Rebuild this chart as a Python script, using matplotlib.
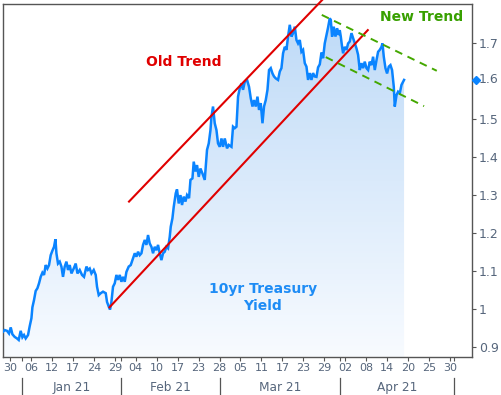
import numpy as np
import matplotlib.pyplot as plt
from matplotlib.colors import LinearSegmentedColormap
import matplotlib.transforms as mtransforms

# 10yr treasury yield, x = trading-session position (Dec 28 2020 = 0)
session = [0.0, 0.38, 0.83, 1.21, 1.54, 1.86, 2.30, 2.74, 3.07, 3.45, 3.78, 4.09, 4.41, 4.86,
           5.18, 5.51, 5.70, 6.01, 6.33, 6.66, 6.97, 7.29, 7.62, 7.93, 8.25, 8.58, 8.89, 9.21,
           9.54, 9.85, 10.12, 10.31, 10.61, 10.94, 11.27, 11.57, 11.90, 12.23, 12.53, 12.86,
           13.19, 13.63, 14.01, 14.34, 14.78, 15.22, 15.60, 16.07, 16.37, 16.70, 17.03, 17.47,
           17.85, 18.10, 18.43, 18.81, 19.25, 19.77, 20.02, 20.40, 20.60, 20.86, 21.17, 21.50,
           21.82, 22.13, 22.46, 22.78, 23.09, 23.42, 23.74, 24.18, 24.57, 24.89, 25.34, 25.66,
           25.97, 26.30, 26.62, 26.93, 27.26, 27.58, 27.89, 28.21, 28.54, 28.85, 29.17, 29.50,
           29.81, 30.13, 30.46, 30.77, 31.09, 31.42, 31.73, 32.05, 32.25, 32.57, 32.82, 33.21,
           33.45, 33.78, 34.11, 34.41, 34.74, 35.07, 35.37, 35.76, 36.03, 36.41, 36.66, 36.99,
           37.29, 37.62, 37.95, 38.33, 38.77, 38.96, 39.21, 39.54, 39.87, 40.06, 40.36, 40.69,
           41.02, 41.32, 41.65, 41.98, 42.28, 42.61, 43.05, 43.38, 43.90, 44.20, 44.53, 44.86,
           45.16, 45.49, 45.82, 46.12, 46.45, 46.89, 47.27, 47.60, 47.93, 48.23, 48.56, 48.89,
           49.19, 49.52, 49.85, 50.15, 50.48, 50.81, 51.11, 51.44, 51.77, 52.07, 52.40, 52.84,
           53.17, 53.49, 53.80, 54.13, 54.45, 54.76, 55.09, 55.41, 55.72, 56.05, 56.37, 56.68,
           57.01, 57.33, 57.64, 57.97, 58.29, 58.60, 58.93, 59.25, 59.56, 59.88, 60.21, 60.52,
           60.85, 61.17, 61.48, 61.80, 62.13, 62.44, 62.76, 62.96, 63.21, 63.53, 63.86, 64.17,
           64.50, 64.68, 64.88, 65.13, 65.32, 65.64, 65.97, 66.28, 66.60, 66.93, 67.24, 67.56,
           67.89, 68.20, 68.52, 68.85, 69.16, 69.48, 69.81, 70.12, 70.44, 70.77, 71.08, 71.40,
           71.73, 72.04, 72.36, 72.69, 72.88, 73.13, 73.45, 73.76, 74.09, 74.41, 74.72, 75.05,
           75.24, 75.57, 75.87, 76.20, 76.53, 76.83, 77.02]
yld = [0.939, 0.944, 0.942, 0.935, 0.951, 0.933, 0.926, 0.922, 0.918, 0.942, 0.925, 0.931, 0.922, 0.931,
       0.954, 0.975, 1.004, 1.023, 1.047, 1.054, 1.067, 1.084, 1.095, 1.089, 1.115, 1.106, 1.115, 1.141,
       1.153, 1.163, 1.183, 1.146, 1.119, 1.124, 1.111, 1.084, 1.111, 1.124, 1.102, 1.115,
       1.093, 1.106, 1.119, 1.093, 1.102, 1.089, 1.084, 1.111, 1.102, 1.106, 1.093, 1.102,
       1.089, 1.058, 1.036, 1.041, 1.045, 1.041, 1.018, 1.004, 0.998, 1.018, 1.058, 1.067,
       1.089, 1.076, 1.089, 1.071, 1.084, 1.071, 1.097, 1.111, 1.115, 1.128, 1.146, 1.137,
       1.150, 1.141, 1.146, 1.168, 1.181, 1.168, 1.194, 1.172, 1.163, 1.146, 1.163, 1.154,
       1.168, 1.146, 1.128, 1.146, 1.150, 1.163, 1.159, 1.189, 1.216, 1.238, 1.268, 1.304,
       1.314, 1.277, 1.299, 1.273, 1.295, 1.282, 1.299, 1.291, 1.339, 1.343, 1.387, 1.361,
       1.378, 1.347, 1.369, 1.356, 1.339, 1.374, 1.418, 1.435, 1.470, 1.505, 1.532, 1.488,
       1.470, 1.435, 1.426, 1.448, 1.426, 1.448, 1.422, 1.431, 1.426, 1.479, 1.475, 1.479,
       1.558, 1.580, 1.593, 1.576, 1.597, 1.602, 1.584, 1.554, 1.532, 1.549, 1.532, 1.558,
       1.523, 1.541, 1.488, 1.532, 1.549, 1.576, 1.628, 1.633, 1.619, 1.611, 1.606, 1.602,
       1.624, 1.633, 1.672, 1.689, 1.681, 1.716, 1.747, 1.716, 1.725, 1.742, 1.707, 1.698,
       1.707, 1.676, 1.681, 1.646, 1.637, 1.602, 1.620, 1.602, 1.620, 1.611, 1.610, 1.635,
       1.643, 1.674, 1.659, 1.698, 1.720, 1.740, 1.764, 1.760, 1.716, 1.742, 1.716, 1.738,
       1.720, 1.733, 1.716, 1.689, 1.672, 1.689, 1.681, 1.698, 1.703, 1.725, 1.712, 1.698,
       1.685, 1.668, 1.628, 1.646, 1.633, 1.650, 1.633, 1.628, 1.650, 1.641, 1.663, 1.628,
       1.654, 1.676, 1.681, 1.689, 1.698, 1.663, 1.633, 1.619, 1.637, 1.641, 1.628, 1.584,
       1.532, 1.562, 1.571, 1.567, 1.589, 1.597, 1.602]

# trend lines (start, end) in (session, yield)
old_upper_x = [24.24, 61.29]
old_upper_y = [1.282, 1.812]
old_lower_x = [20.50, 70.06]
old_lower_y = [1.004, 1.733]
new_upper_x = [61.23, 83.30]
new_upper_y = [1.773, 1.626]
new_lower_x = [62.00, 80.86]
new_lower_y = [1.662, 1.533]

day_labels = ["30", "06", "12", "17", "24", "29", "04", "10", "17", "23", "28",
              "05", "11", "17", "23", "29", "02", "08", "14", "20", "25", "30"]
month_labels = ["Jan 21", "Feb 21", "Mar 21", "Apr 21"]
month_bounds = [3.65, 22.76, 41.77, 64.80, 86.68]
y_ticks = [0.9, 1.0, 1.1, 1.2, 1.3, 1.4, 1.5, 1.7]

XMIN, XMAX = 0, 90
YMIN, YMAX = 0.874, 1.801

label_col = "#56667c"
spine_col = "#555555"
blue = "#0a84ff"

fig = plt.figure(figsize=(5.01, 3.95), dpi=100)
ax = fig.add_axes([0.0054, 0.0970, 0.9361, 0.8922])
ax.set_xlim(XMIN, XMAX)
ax.set_ylim(YMIN, YMAX)

# gradient fill under the line
poly = ax.fill_between(session, yld, YMIN, color="none", lw=0)
cmap = LinearSegmentedColormap.from_list("fillgrad", ["#f8fbff", "#bcd9f7"])
grad = np.linspace(0, 1, 256).reshape(-1, 1)
img = ax.imshow(grad, cmap=cmap, aspect="auto", origin="lower",
                extent=[XMIN, XMAX, YMIN, YMAX], zorder=1)
img.set_clip_path(poly.get_paths()[0], transform=ax.transData)

ax.plot(session, yld, color=blue, lw=1.8, zorder=3, solid_joinstyle="miter")

# trend lines
ax.plot(old_upper_x, old_upper_y, color="#e00000", lw=1.5, zorder=4, clip_on=False)
ax.plot(old_lower_x, old_lower_y, color="#e00000", lw=1.5, zorder=4)
ax.plot(new_upper_x, new_upper_y, color="#44a800", lw=1.4, ls=(0, (4, 3)), zorder=4)
ax.plot(new_lower_x, new_lower_y, color="#44a800", lw=1.4, ls=(0, (4, 3)), zorder=4)

ax.text(34.7, 1.648, "Old Trend", color="#e00000", fontsize=10, fontweight="bold",
        ha="center", va="center")
ax.text(80.3, 1.768, "New Trend", color="#38a000", fontsize=10, fontweight="bold",
        ha="center", va="center")
ax.text(49.9, 1.030, "10yr Treasury\nYield", color="#1e8cf5", fontsize=10,
        fontweight="bold", ha="center", va="center", linespacing=1.25)

# y axis on the right
ax.yaxis.tick_right()
ax.set_yticks(y_ticks)
ax.set_yticklabels([f"{v:g}" for v in y_ticks])
ax.tick_params(axis="y", direction="out", length=2.6, width=0.8, color=spine_col,
               labelsize=9, labelcolor=label_col, pad=2.5)

# current value marker
trans_y = mtransforms.blended_transform_factory(ax.transAxes, ax.transData)
ax.plot([1.009], [yld[-1]], marker="D", markersize=4.2, color=blue,
        transform=trans_y, clip_on=False, zorder=5)
ax.text(1.0155, yld[-1], f"{yld[-1]:.1f}", transform=trans_y, fontsize=9,
        color=label_col, ha="left", va="center")

# x axis: day ticks and month bands
day_pos = [1.40 + 4.021 * i for i in range(len(day_labels))]
ax.set_xticks(day_pos)
ax.set_xticklabels(day_labels)
ax.set_xticks(month_bounds, minor=True)
ax.tick_params(axis="x", which="both", direction="out", length=2.6, width=0.8,
               color=spine_col, labelsize=8, labelcolor=label_col, pad=2)

trans_x = mtransforms.blended_transform_factory(ax.transData, ax.transAxes)
for b in month_bounds:
    ax.plot([b, b], [-0.060, -0.11], color=spine_col, lw=0.9, transform=trans_x,
            clip_on=False)
for i, lab in enumerate(month_labels):
    mid = (month_bounds[i] + month_bounds[i + 1]) / 2
    ax.text(mid, -0.087, lab, transform=trans_x, fontsize=8.7, color=label_col,
            ha="center", va="center")

for s in ax.spines.values():
    s.set_color(spine_col)
    s.set_linewidth(1)

fig.savefig("out.png", dpi=100)
